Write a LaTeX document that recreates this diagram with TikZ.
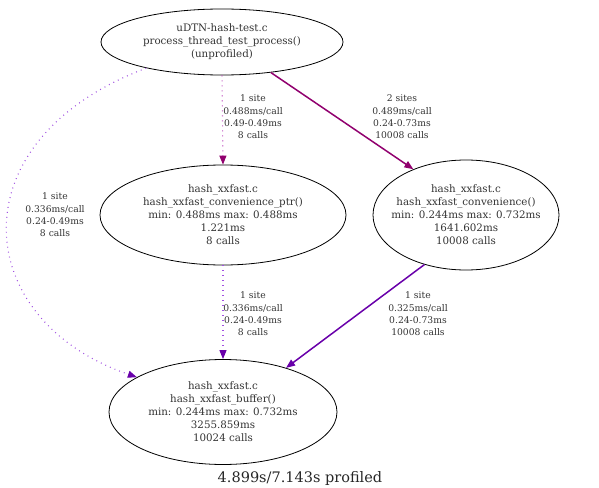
\documentclass[tikz,border=0pt]{standalone}
\usepackage{fontspec}
\setmainfont{DejaVu Serif}
\usetikzlibrary{shapes.geometric,arrows.meta}
\definecolor{magedge}{RGB}{145,0,110}
\definecolor{vioedge}{RGB}{105,0,170}
\definecolor{magdot}{RGB}{190,80,190}
\definecolor{viodot}{RGB}{160,80,225}
\begin{document}
\begin{tikzpicture}[x=1pt,y=-1pt,
  fn/.style={ellipse,draw=black,line width=0.8pt,inner xsep=-20pt,inner ysep=-6pt,align=center,
    font=\fontsize{10.3}{13}\selectfont,text=black!80},
  lbl/.style={align=center,font=\fontsize{9.2}{12.4}\selectfont,text=black!80},
  magtip/.style={-{Triangle[length=9pt,width=7pt,color=magedge,fill=magedge]}},
  viotip/.style={-{Triangle[length=9pt,width=7pt,color=vioedge,fill=vioedge]}},
  heavy/.style={line width=1.5pt},
  dots/.style={line width=1.1pt,dash pattern=on 0.9pt off 4.1pt}]
\useasboundingbox (0,0) rectangle (599,487);
\node[fn,minimum width=242pt,minimum height=66pt] (top) at (222,42)
  {uDTN-hash-test.c\\process\_thread\_test\_process()\\(unprofiled)};
\node[fn,minimum width=246pt,minimum height=100pt] (ptr) at (223,215)
  {hash\_xxfast.c\\hash\_xxfast\_convenience\_ptr()\\min: 0.488ms max: 0.488ms\\1.221ms\\8 calls};
\node[fn,minimum width=186pt,minimum height=110pt] (conv) at (466,215)
  {hash\_xxfast.c\\hash\_xxfast\_convenience()\\min: 0.244ms max: 0.732ms\\1641.602ms\\10008 calls};
\node[fn,minimum width=228pt,minimum height=105pt] (buf) at (223,412)
  {hash\_xxfast.c\\hash\_xxfast\_buffer()\\min: 0.244ms max: 0.732ms\\3255.859ms\\10024 calls};
\node[font=\fontsize{14.5}{16}\selectfont,text=black!85] (title) at (300,478) {4.899s/7.143s profiled};

\draw[dots,magtip,draw=magdot] (top.south) -- (ptr.north);
\node[lbl] (l1) at (253,117) {1 site\\0.488ms/call\\0.49-0.49ms\\8 calls};

\draw[heavy,magtip,draw=magedge] (top.-32) -- (conv.139);
\node[lbl] (l2) at (402,117) {2 sites\\0.489ms/call\\0.24-0.73ms\\10008 calls};

\draw[dots,viotip,draw=viodot] (top.199) .. controls (-45,140) and (-30,320) .. (buf.158);
\node[lbl] (l3) at (55,215) {1 site\\0.336ms/call\\0.24-0.49ms\\8 calls};

\draw[dots,viotip,draw=viodot] (ptr.south) -- (buf.north);
\node[lbl] (l4) at (253,314) {1 site\\0.336ms/call\\0.24-0.49ms\\8 calls};

\draw[heavy,viotip,draw=vioedge] (conv.230) -- (buf.35);
\node[lbl] (l5) at (418,314) {1 site\\0.325ms/call\\0.24-0.73ms\\10008 calls};
\end{tikzpicture}
\end{document}
